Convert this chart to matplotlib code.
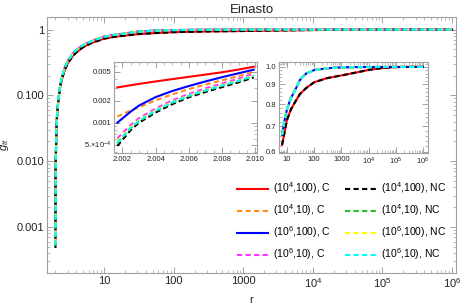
import matplotlib.pyplot as plt
from matplotlib.ticker import FixedLocator, NullFormatter, LogLocator
import numpy as np

plt.rcParams["font.family"] = ["Liberation Sans", "DejaVu Sans"]
plt.rcParams["mathtext.fontset"] = "custom"
plt.rcParams["mathtext.rm"] = "Liberation Sans"
plt.rcParams["mathtext.it"] = "Liberation Sans:italic"

# --- data ---
# near-horizon points (first inset)
r_near = [2.0017, 2.0025, 2.003, 2.004, 2.005, 2.006, 2.007, 2.008, 2.009, 2.0099]
g_near_red = [3.06e-3, 3.28e-3, 3.42e-3, 3.70e-3, 3.98e-3, 4.28e-3, 4.60e-3, 4.95e-3, 5.40e-3, 5.90e-3]
g_near_orange = [1.22e-3, 1.47e-3, 1.63e-3, 2.03e-3, 2.45e-3, 2.90e-3, 3.35e-3, 3.83e-3, 4.40e-3, 5.00e-3]
g_near_blue = [1.00e-3, 1.42e-3, 1.72e-3, 2.25e-3, 2.73e-3, 3.20e-3, 3.70e-3, 4.24e-3, 4.80e-3, 5.37e-3]
g_near_magenta = [6.1e-4, 9.3e-4, 1.15e-3, 1.57e-3, 2.03e-3, 2.49e-3, 2.97e-3, 3.46e-3, 4.05e-3, 4.70e-3]
g_near_black = [4.8e-4, 7.9e-4, 1.00e-3, 1.38e-3, 1.80e-3, 2.24e-3, 2.65e-3, 3.09e-3, 3.60e-3, 4.20e-3]
g_near_green = [5.2e-4, 8.4e-4, 1.05e-3, 1.45e-3, 1.88e-3, 2.33e-3, 2.76e-3, 3.22e-3, 3.75e-3, 4.38e-3]
g_near_yellow = [5.5e-4, 8.7e-4, 1.08e-3, 1.49e-3, 1.93e-3, 2.38e-3, 2.82e-3, 3.30e-3, 3.83e-3, 4.46e-3]
g_near_cyan = [5.3e-4, 8.5e-4, 1.06e-3, 1.47e-3, 1.90e-3, 2.35e-3, 2.79e-3, 3.26e-3, 3.79e-3, 4.42e-3]

# far points (main plot and second inset)
r_far = [2.02, 2.05, 2.1, 2.2, 2.35, 2.5, 2.75, 3, 3.5, 4, 5, 6.6, 8, 10, 14, 20, 30, 50,
         100, 300, 1000, 3000, 1e4, 3e4, 1e5, 3e5, 1e6]
g_far_upper = [0.0099, 0.024, 0.047, 0.09, 0.147, 0.197, 0.27, 0.33, 0.42, 0.49, 0.58, 0.665,
               0.72, 0.775, 0.83, 0.87, 0.925, 0.96, 0.981, 0.992, 0.997, 0.999, 0.9995,
               0.9998, 0.9999, 1.0, 1.0]
g_far_lower = [0.0099, 0.024, 0.046, 0.085, 0.14, 0.185, 0.25, 0.305, 0.39, 0.45, 0.54, 0.626,
               0.67, 0.727, 0.775, 0.81, 0.85, 0.88, 0.912, 0.935, 0.95, 0.965, 0.982,
               0.993, 0.999, 1.0, 1.0]

labels = ["(10$^4$,100), C", "(10$^4$,10), C", "(10$^6$,100), C", "(10$^6$,10), C",
          "(10$^4$,100), NC", "(10$^4$,10), NC", "(10$^6$,100), NC", "(10$^6$,10), NC"]
colors = ["#ff0000", "#ff8c1a", "#0000ff", "#ff33ff", "#000000", "#22bb22", "#ffff00", "#00ffff"]
solid = [True, False, True, False, False, False, False, False]
near_vals = [g_near_red, g_near_orange, g_near_blue, g_near_magenta,
             g_near_black, g_near_green, g_near_yellow, g_near_cyan]
far_vals = [g_far_lower, g_far_upper, g_far_upper, g_far_upper,
            g_far_lower, g_far_upper, g_far_upper, g_far_upper]

frame_col = "#a0a0a0"
text_col = "#222222"


def style_axes(ax, fs):
    for s in ax.spines.values():
        s.set_color(frame_col)
        s.set_linewidth(0.8)
    ax.tick_params(which="both", direction="in", top=True, right=True,
                   color=frame_col, labelcolor=text_col, labelsize=fs, pad=2)
    ax.tick_params(which="major", length=4, width=0.7)
    ax.tick_params(which="minor", length=2, width=0.5)


def draw(ax, r_min=None, r_max=None):
    for i in range(8):
        r = np.array(r_near + r_far)
        g = np.array(near_vals[i] + far_vals[i])
        m = np.ones(len(r), bool)
        if r_min is not None:
            m &= r >= r_min
        if r_max is not None:
            m &= r <= r_max
        kw = dict(color=colors[i], lw=1.5, label=labels[i])
        if solid[i]:
            ax.plot(r[m], g[m], **kw)
        else:
            ax.plot(r[m], g[m], dashes=(2.5, 1.6), **kw)


fig = plt.figure(figsize=(4.63, 3.07), dpi=100)
ax = fig.add_axes([0.1015, 0.1107, 0.8834, 0.8339])
draw(ax)
ax.set_xscale("log")
ax.set_yscale("log")
ax.set_xlim(1.51, 1.14e6)
ax.set_ylim(2.0e-4, 1.55)
style_axes(ax, 8)
ax.xaxis.set_major_locator(FixedLocator([10, 100, 1000, 1e4, 1e5, 1e6]))
ax.set_xticklabels(["10", "100", "1000", "10$^{4}$", "10$^{5}$", "10$^{6}$"])
ax.xaxis.set_minor_locator(LogLocator(base=10, subs=np.arange(2, 10), numticks=20))
ax.xaxis.set_minor_formatter(NullFormatter())
ax.yaxis.set_major_locator(FixedLocator([1e-3, 1e-2, 1e-1, 1]))
ax.set_yticklabels(["0.001", "0.010", "0.100", "1"])
ax.yaxis.set_minor_locator(LogLocator(base=10, subs=np.arange(2, 10), numticks=20))
ax.yaxis.set_minor_formatter(NullFormatter())
ax.set_title("Einasto", fontsize=9.5, color=text_col, pad=3)
ax.set_xlabel("r", fontsize=8, color=text_col, labelpad=4)
ax.set_ylabel("$g_{tt}$", fontsize=8, color=text_col, labelpad=4)

ax.legend(loc="lower right", bbox_to_anchor=(1.0, 0.005), ncol=2, frameon=False,
          fontsize=7.5, handlelength=3.0, handletextpad=0.5, columnspacing=1.3,
          labelspacing=0.6)

# first inset: near horizon
ax1 = fig.add_axes([0.2462, 0.5016, 0.3089, 0.2964])
draw(ax1, r_max=2.011)
ax1.set_yscale("log")
ax1.set_xlim(2.0015, 2.0101)
ax1.set_ylim(3.83e-4, 6.85e-3)
style_axes(ax1, 5.5)
ax1.xaxis.set_major_locator(FixedLocator([2.002, 2.004, 2.006, 2.008, 2.010]))
ax1.set_xticklabels(["2.002", "2.004", "2.006", "2.008", "2.010"])
ax1.xaxis.set_minor_locator(FixedLocator(np.arange(2.0015, 2.0101, 0.0005)))
ax1.yaxis.set_major_locator(FixedLocator([5e-4, 1e-3, 2e-3, 5e-3]))
ax1.set_yticklabels(["5.$\\times$10$^{-4}$", "0.001", "0.002", "0.005"])
ax1.yaxis.set_minor_locator(FixedLocator([4e-4, 6e-4, 7e-4, 8e-4, 9e-4, 3e-3, 4e-3, 6e-3]))
ax1.yaxis.set_minor_formatter(NullFormatter())

# second inset: far region
ax2 = fig.add_axes([0.6026, 0.5016, 0.3218, 0.2964])
draw(ax2, r_min=6.5)
ax2.set_xscale("log")
ax2.set_yscale("log")
ax2.set_xlim(5.1, 1.53e6)
ax2.set_ylim(0.596, 1.03)
style_axes(ax2, 5.5)
ax2.xaxis.set_major_locator(FixedLocator([10, 100, 1000, 1e4, 1e5, 1e6]))
ax2.set_xticklabels(["10", "100", "1000", "10$^{4}$", "10$^{5}$", "10$^{6}$"])
ax2.xaxis.set_minor_locator(LogLocator(base=10, subs=np.arange(2, 10), numticks=20))
ax2.xaxis.set_minor_formatter(NullFormatter())
ax2.yaxis.set_major_locator(FixedLocator([0.6, 0.7, 0.8, 0.9, 1.0]))
ax2.set_yticklabels(["0.6", "0.7", "0.8", "0.9", "1.0"])
ax2.yaxis.set_minor_locator(FixedLocator(np.arange(0.62, 1.03, 0.02)))
ax2.yaxis.set_minor_formatter(NullFormatter())

fig.savefig("out.png", dpi=100)
plt.close(fig)
